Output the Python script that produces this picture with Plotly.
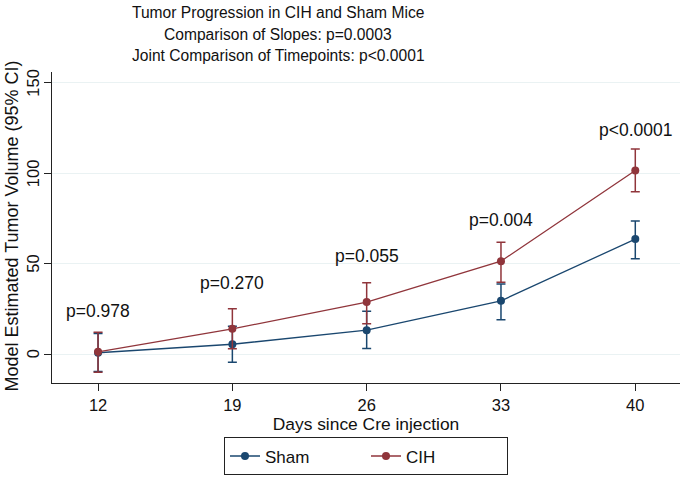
import plotly.graph_objects as go

days = [12, 19, 26, 33, 40]
sham_mean = [0.8, 5.5, 13.3, 29.5, 63.6]
sham_lo = [-9.5, -4.5, 3.1, 19.1, 52.8]
sham_hi = [11.5, 15.5, 23.7, 38.8, 73.6]
cih_mean = [1.3, 14.0, 28.8, 51.4, 101.5]
cih_lo = [-10.0, 3.0, 16.8, 39.7, 89.8]
cih_hi = [12.2, 25.1, 39.5, 61.9, 113.3]
p_labels = ["p=0.978", "p=0.270", "p=0.055", "p=0.004", "p<0.0001"]
p_label_y = [23.7, 39.2, 54.2, 73.9, 124.0]
y_ticks = [0, 50, 100, 150]
title_lines = ["Tumor Progression in CIH and Sham Mice",
               "Comparison of Slopes: p=0.0003",
               "Joint Comparison of Timepoints: p<0.0001"]
y_title = "Model Estimated Tumor Volume (95% CI)"
x_title = "Days since Cre injection"

NAVY = "#1a476f"
MAROON = "#90353b"
FONT = "Liberation Sans, Arial, sans-serif"
INK = "#111111"


def txt(size):
    return dict(size=size, color=INK, family=FONT)


TOP, BOTTOM = 72, 386  # plot area pixel rows
LEFT, RIGHT = 52, 680

fig = go.Figure()


def add_series(name, mean, lo, hi, color):
    fig.add_trace(go.Scatter(
        x=days, y=mean, name=name, mode="lines+markers",
        line=dict(color=color, width=1.3),
        marker=dict(color=color, size=8, symbol="circle"),
        error_y=dict(
            type="data", symmetric=False,
            array=[h - m for h, m in zip(hi, mean)],
            arrayminus=[m - l for m, l in zip(mean, lo)],
            color=color, thickness=1.5, width=4.5,
        ),
    ))


add_series("Sham", sham_mean, sham_lo, sham_hi, NAVY)
add_series("CIH", cih_mean, cih_lo, cih_hi, MAROON)

for x, y, t in zip(days, p_label_y, p_labels):
    fig.add_annotation(x=x, y=y, text=t, showarrow=False, font=txt(17.5),
                       xanchor="center", yanchor="middle")

H = BOTTOM - TOP
W = RIGHT - LEFT
for ypx, t in zip([12, 34, 55.5], title_lines):
    fig.add_annotation(xref="paper", yref="paper",
                       x=(278 - LEFT) / W, y=(BOTTOM - ypx) / H,
                       text=t, showarrow=False, font=txt(15.6),
                       xanchor="center", yanchor="middle")

fig.add_annotation(xref="paper", yref="paper",
                   x=(12 - LEFT) / W, y=(BOTTOM - 228) / H,
                   text=y_title, textangle=-90, showarrow=False, font=txt(18),
                   xanchor="center", yanchor="middle")

# rotated y tick labels placed on the y scale
for v in y_ticks:
    fig.add_annotation(xref="paper", yref="y",
                       x=(33 - LEFT) / W, y=v,
                       text=str(v), textangle=-90, showarrow=False,
                       font=txt(16.5), xanchor="center", yanchor="middle")

fig.update_layout(
    width=684, height=480,
    paper_bgcolor="white", plot_bgcolor="white",
    margin=dict(l=LEFT, r=684 - RIGHT, t=TOP, b=480 - BOTTOM),
    font=dict(family=FONT, size=16, color=INK),
    showlegend=True,
    legend=dict(
        orientation="h", x=0.5, xanchor="center", y=(BOTTOM - 441) / H,
        yanchor="top",
        bordercolor="#222222", borderwidth=1, entrywidth=96,
        font=txt(17), bgcolor="white",
    ),
)

fig.update_xaxes(
    range=[9.6, 42.33], tickvals=days, ticktext=[str(d) for d in days],
    showgrid=False, zeroline=False,
    showline=True, linecolor="#222222", linewidth=1.3,
    ticks="outside", ticklen=7, tickcolor="#222222",
    title=dict(text=x_title, standoff=2, font=txt(17.4)),
    tickfont=txt(16.5),
    automargin=False,
)
fig.update_yaxes(
    range=[-15.9, 155.9], tickvals=y_ticks, showticklabels=False,
    showgrid=True, gridcolor="#eaf2f3", gridwidth=1, zeroline=False,
    showline=True, linecolor="#222222", linewidth=1.3,
    ticks="outside", ticklen=7, tickcolor="#222222",
    automargin=False,
)

fig.write_html("out.html", config={"displayModeBar": False},
               post_script="document.body.style.margin='0';")
